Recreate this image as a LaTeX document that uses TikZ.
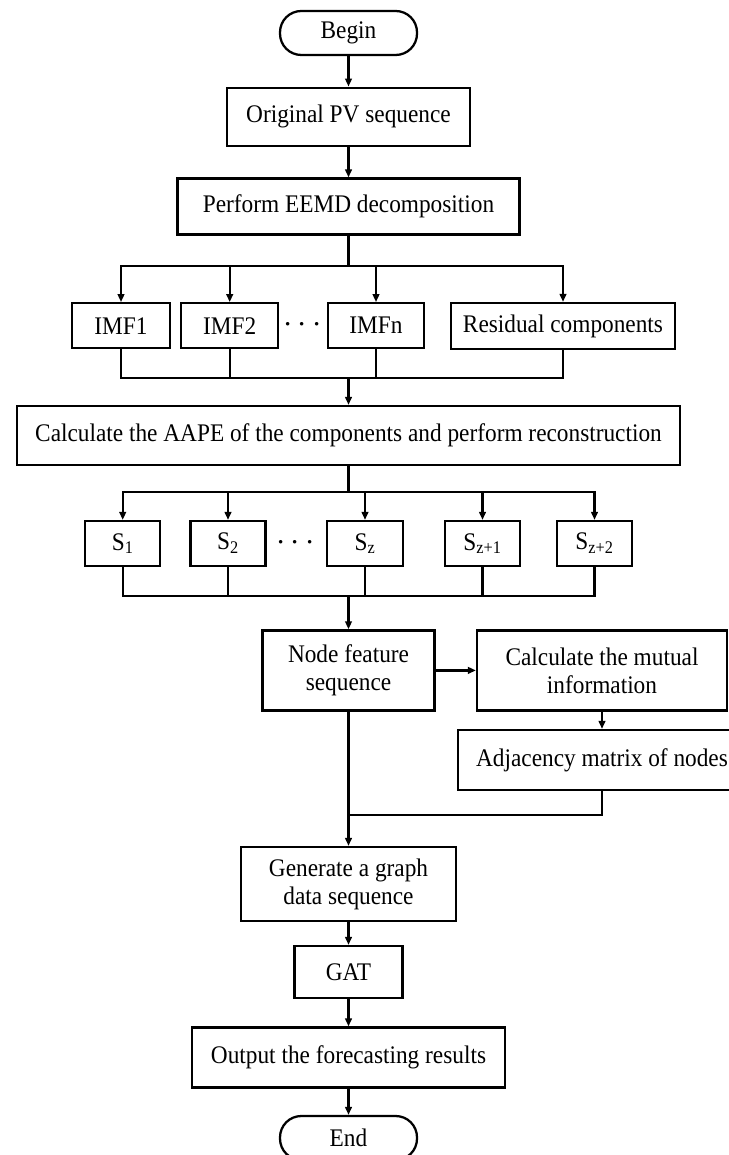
\documentclass[tikz,border=0pt]{standalone}
\usepackage{fontspec}
\setmainfont{Liberation Serif}[FakeStretch=0.92]
\usepackage{tikz}
\usetikzlibrary{arrows.meta,positioning,calc}
\tikzset{
  box/.style={draw,line width=1.7pt,align=center,inner sep=0pt,
              font=\fontsize{19}{21}\selectfont},
  wh/.style 2 args={minimum width=#1*0.75pt,minimum height=#2*0.75pt},
  term/.style={box,rounded corners=16pt},
  arr/.style={-{Triangle[length=6pt,width=5pt]},line width=1.7pt},
  ln/.style={line width=1.7pt},
  dots/.style={font=\fontsize{27}{27}\selectfont,inner sep=0pt},
}
\begin{document}
\begin{tikzpicture}[x=0.75pt,y=-0.75pt,line join=miter]
\useasboundingbox (0,0) rectangle (728,1155);
% top: input and decomposition
\node[term,wh={137}{44}] (begin) at (348.5,33) {Begin};
\node[box,wh={243}{58}] (orig) at (348.5,116.7) {Original PV sequence};
\node[box,wh={342}{56}] (eemd) at (348.5,206.5) {Perform EEMD decomposition};
\draw[arr] (begin) -- (orig);
\draw[arr] (orig) -- (eemd);
% IMF components
\node[box,wh={98}{45}] (imf1) at (121,325.7) {IMF1};
\node[box,wh={97}{45}] (imf2) at (229.7,325.7) {IMF2};
\node[dots] (dotsa) at (302.5,325) {$\cdots$};
\node[box,wh={96}{45}] (imfn) at (376,325.7) {IMFn};
\node[box,wh={224}{46}] (res) at (563,326) {Residual components};
\coordinate (bra) at (348.5,266);
\coordinate (mga) at (348.5,378);
\draw[ln] (eemd) -- (bra);
\foreach \n in {imf1,imf2,imfn,res}{
  \draw[arr] (bra) -| (\n);
  \draw[ln] (\n) |- (mga);
}
% AAPE reconstruction
\node[box,wh={663}{59}] (calc) at (348.5,435.5)
  {Calculate the AAPE of the components and perform reconstruction};
\draw[arr] (mga) -- (calc);
\node[box,wh={75}{45}] (s1) at (122.7,543.5) {S\textsubscript{1}};
\node[box,wh={75}{45}] (s2) at (228,543.5) {S\textsubscript{2}};
\node[dots] (dotsb) at (295.5,543) {$\cdots$};
\node[box,wh={76}{45}] (sz) at (365,543.5) {S\textsubscript{z}};
\node[box,wh={75}{45}] (sza) at (482.5,543.5) {S\textsubscript{z+1}};
\node[box,wh={75}{45}] (szb) at (594.5,543.5) {S\textsubscript{z+2}};
\coordinate (brb) at (348.5,492);
\coordinate (mgb) at (348.5,596);
\draw[ln] (calc) -- (brb);
\foreach \n in {s1,s2,sz,sza,szb}{
  \draw[arr] (brb) -| (\n);
  \draw[ln] (\n) |- (mgb);
}
% graph construction
\node[box,wh={172}{80}] (nf) at (348.5,670.4) {Node feature\\sequence};
\node[box,wh={250}{80}] (mi) at (602,670.4) {Calculate the mutual\\information};
\node[box,wh={288}{60}] (adj) at (602,760) {Adjacency matrix of nodes};
\coordinate (jn) at (348.5,815);
\draw[arr] (mgb) -- (nf);
\draw[arr] (nf) -- (mi);
\draw[arr] (mi) -- (adj);
\draw[ln] (adj) |- (jn);
% forecasting
\node[box,wh={215}{74}] (gen) at (348.5,884) {Generate a graph\\data sequence};
\node[box,wh={108}{52}] (gat) at (348.5,972) {GAT};
\node[box,wh={313}{60}] (out) at (348.5,1057.5) {Output the forecasting results};
\node[term,wh={137}{44}] (end) at (348.5,1138) {End};
\draw[arr] (nf) -- (gen);
\draw[arr] (gen) -- (gat);
\draw[arr] (gat) -- (out);
\draw[arr] (out) -- (end);
\end{tikzpicture}
\end{document}
